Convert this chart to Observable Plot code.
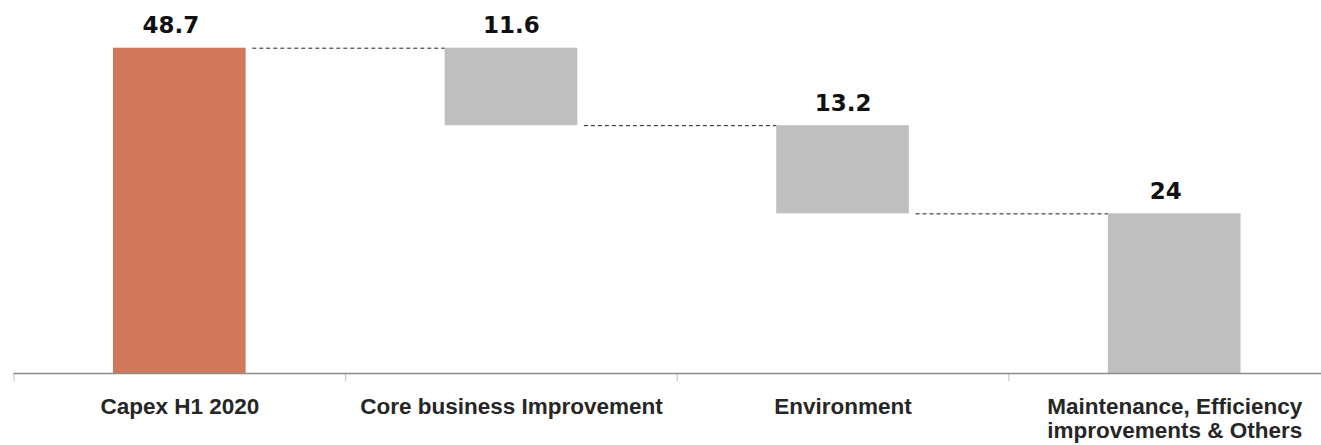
<!DOCTYPE html>
<html>
<head>
<meta charset="utf-8">
<script src="https://cdn.jsdelivr.net/npm/d3@7"></script>
<script src="https://cdn.jsdelivr.net/npm/@observablehq/plot@0.6"></script>
<style>
  body { margin: 0; background: #fff; }
  #chart svg { display: block; }
</style>
</head>
<body>
<div id="chart"></div>
<script>
// Capex waterfall: opening total followed by the breakdown of uses
const categories = [
  "Capex H1 2020",
  "Core business Improvement",
  "Environment",
  "Maintenance, Efficiency\nimprovements & Others"
];
const values = [48.7, 11.6, 13.2, 24];
const kinds = ["total", "decrease", "decrease", "decrease"];
const valueLabels = ["48.7", "11.6", "13.2", "24"];

// Running totals give each step its floating span
let running = 0;
const steps = categories.map((category, i) => {
  const start = kinds[i] === "total" ? 0 : running;
  const end = kinds[i] === "total" ? values[i] : running - values[i];
  running = end;
  return {
    i, category, kind: kinds[i], label: valueLabels[i],
    lo: Math.min(start, end), hi: Math.max(start, end), end
  };
});
const last = steps.length - 1;

const bold = {fontWeight: "bold"};
const chart = Plot.plot({
  width: 1321,
  height: 445,
  marginTop: 47.7,
  marginBottom: 72,
  marginLeft: 13.5,
  marginRight: 0,
  x: {type: "linear", domain: [0, steps.length], range: [13.5, 1340], axis: null},
  y: {domain: [0, 48.7], axis: null},
  color: {type: "identity"},
  style: {background: "#fff", overflow: "visible"},
  marks: [
    // floating bars
    Plot.rectY(steps, {
      x1: d => d.i + 0.3, x2: d => d.i + 0.7,
      y1: "lo", y2: "hi",
      fill: d => d.kind === "total" ? "#D2785A" : "#BFBFBF"
    }),
    // dashed connectors from each step's end to the next bar
    Plot.ruleY(steps.slice(0, last), {
      y: "end",
      x1: d => d.i + 0.72, x2: d => d.i + 1.3,
      stroke: "#222", strokeWidth: 1, strokeDasharray: "4,3"
    }),
    // category separators below the baseline
    Plot.axisX({
      ticks: d3.range(0, steps.length + 1),
      tickSize: 8, tickFormat: () => "",
      stroke: "#BFBFBF", strokeWidth: 1
    }),
    // baseline
    Plot.ruleY([0], {x1: 0, x2: steps.length, stroke: "#8C8C8C", strokeWidth: 1.6}),
    // category names
    Plot.text(steps, {
      x: d => d.i + 0.5, y: 0, text: "category",
      lineAnchor: "top", dy: 23, lineHeight: 1.08,
      fontSize: 22.5, fontFamily: "Liberation Sans, Arial, sans-serif",
      fill: "#262626", ...bold
    }),
    // value labels above each bar
    Plot.text(steps.filter(d => d.i > 0 && d.i < last), {
      x: d => d.i + 0.5, y: "hi", text: "label",
      lineAnchor: "bottom", dy: -15,
      fontSize: 23, fontFamily: "DejaVu Sans, Verdana, sans-serif",
      fill: "#111", ...bold
    }),
    Plot.text(steps.filter(d => d.i === 0 || d.i === last), {
      x: d => d.i + 0.5, y: "hi", text: "label",
      lineAnchor: "bottom", dy: -15, dx: -9,
      fontSize: 23, fontFamily: "DejaVu Sans, Verdana, sans-serif",
      fill: "#111", ...bold
    })
  ]
});
document.getElementById("chart").append(chart);
</script>
</body>
</html>
